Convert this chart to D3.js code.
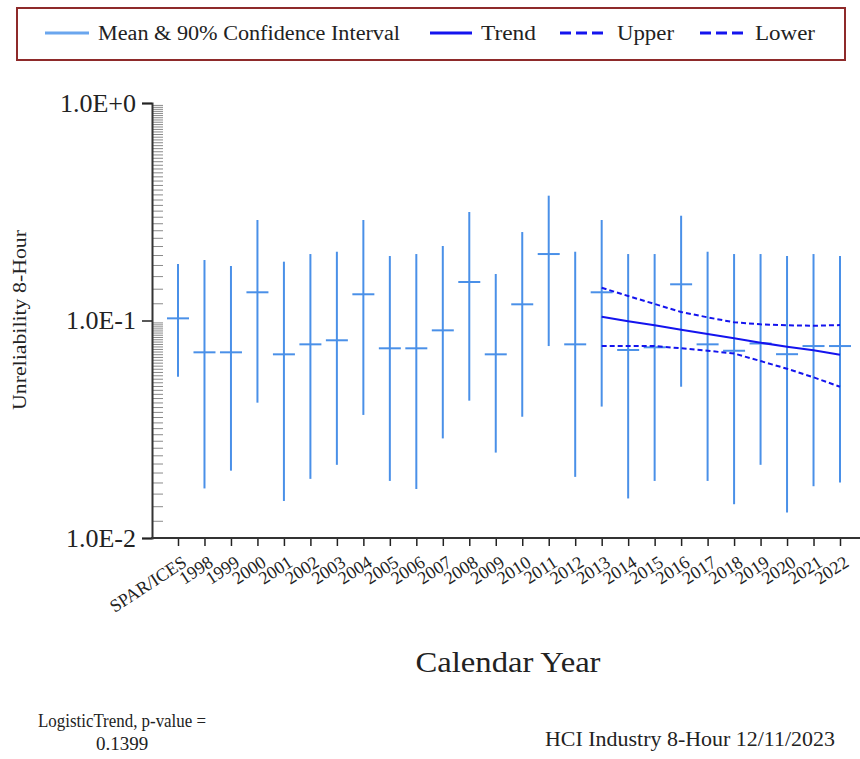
<!DOCTYPE html>
<html>
<head>
<meta charset="utf-8">
<script src="https://cdn.jsdelivr.net/npm/d3@7"></script>
<style>
  body { margin: 0; background: #fff; }
  svg { display: block; }
  svg text { font-family: "Liberation Serif", "Times New Roman", serif; }
</style>
</head>
<body>
<div id="chart"></div>
<script>
const categories = ["SPAR/ICES", "1998", "1999", "2000", "2001", "2002", "2003", "2004", "2005",
  "2006", "2007", "2008", "2009", "2010", "2011", "2012", "2013", "2014", "2015", "2016",
  "2017", "2018", "2019", "2020", "2021", "2022"];

const means = [0.1023, 0.0714, 0.0714, 0.1348, 0.0699, 0.0777, 0.0811, 0.1320, 0.0745,
  0.0745, 0.0901, 0.1503, 0.0699, 0.1187, 0.2021, 0.0777, 0.1348, 0.0732, 0.0753, 0.1467,
  0.0777, 0.0726, 0.0784, 0.0700, 0.0763, 0.0763];
const upper90 = [0.1819, 0.1897, 0.1781, 0.2898, 0.1864, 0.2021, 0.2071, 0.2898, 0.1979,
  0.2021, 0.2201, 0.3154, 0.1636, 0.2551, 0.3749, 0.2071, 0.2898, 0.2021, 0.2021, 0.3032,
  0.2071, 0.2021, 0.2021, 0.1979, 0.2021, 0.1979];
const lower90 = [0.0551, 0.0169, 0.0204, 0.0419, 0.0148, 0.0187, 0.0217, 0.0368, 0.0183,
  0.0168, 0.0287, 0.0428, 0.0247, 0.0361, 0.0763, 0.0191, 0.0402, 0.0152, 0.0183, 0.0496,
  0.0183, 0.0143, 0.0217, 0.0131, 0.0173, 0.0180];

const trendYears = ["2013", "2014", "2015", "2016", "2017", "2018", "2019", "2020", "2021", "2022"];
const trend = [0.1041, 0.0992, 0.0950, 0.0907, 0.0867, 0.0829, 0.0791, 0.0758, 0.0729, 0.0696];
const trendUpper = [0.1415, 0.1296, 0.1191, 0.1094, 0.1034, 0.0981, 0.0960, 0.0950, 0.0946, 0.0953];
const trendLower = [0.0763, 0.0763, 0.0763, 0.0745, 0.0726, 0.0705, 0.0651, 0.0600, 0.0548, 0.0496];

const yMajor = [1, 0.1, 0.01];
const yMajorLabels = ["1.0E+0", "1.0E-1", "1.0E-2"];

const width = 860;
const height = 759;
const serif = "Liberation Serif";

const svg = d3.select("#chart")
  .append("svg")
  .attr("width", width)
  .attr("height", height);

const x = d3.scalePoint()
  .domain(categories)
  .range([178, 840]);

const y = d3.scaleLog()
  .domain([0.01, 1])
  .range([538, 103]);

const ciColor = "#4a90e8";
const trendColor = "#1414ee";

// legend
const legend = svg.append("g");
legend.append("rect")
  .attr("x", 17).attr("y", 8)
  .attr("width", 828).attr("height", 52)
  .attr("fill", "white")
  .attr("stroke", "#8e2a2a")
  .attr("stroke-width", 2);

const legendItems = [
  { label: "Mean & 90% Confidence Interval", x: 45, color: "#6aa6ee", dash: null, w: 44, tx: 98, tl: 302 },
  { label: "Trend", x: 430, color: trendColor, dash: null, w: 42, tx: 481, tl: 55 },
  { label: "Upper", x: 560, color: trendColor, dash: "11,5", w: 44, tx: 617, tl: 57 },
  { label: "Lower", x: 700, color: trendColor, dash: "11,5", w: 44, tx: 755, tl: 60 }
];
legendItems.forEach((d) => {
  legend.append("line")
    .attr("x1", d.x).attr("x2", d.x + d.w)
    .attr("y1", 33).attr("y2", 33)
    .attr("stroke", d.color)
    .attr("stroke-width", 3)
    .attr("stroke-dasharray", d.dash);
  legend.append("text")
    .attr("x", d.tx).attr("y", 40)
    .attr("textLength", d.tl)
    .attr("lengthAdjust", "spacingAndGlyphs")
    .style("font-family", serif)
    .style("font-size", "20px")
    .attr("fill", "#222")
    .text(d.label);
});

// y axis, minor ticks
const minorTicks = [];
[0.01, 0.1].forEach((dec) => {
  for (let k = 12; k < 100; k += 2) minorTicks.push(dec * k / 10);
});

svg.append("g")
  .attr("transform", "translate(153,0)")
  .call(d3.axisRight(y).tickValues(minorTicks).tickSize(10).tickFormat(""))
  .call((g) => g.select(".domain").remove())
  .selectAll("line")
  .attr("stroke", "#8a8a8a");

const yAxis = svg.append("g")
  .attr("transform", "translate(152,0)")
  .call(d3.axisLeft(y).tickValues(yMajor).tickSize(10)
    .tickFormat((d, i) => yMajorLabels[i]));
yAxis.select(".domain")
  .attr("stroke", "#333")
  .attr("stroke-width", 2);
yAxis.selectAll("line").attr("stroke", "#222").attr("stroke-width", 1.5);
yAxis.selectAll("text")
  .attr("x", -16)
  .attr("fill", "#222")
  .style("font-family", serif)
  .style("font-size", "26px");

// x axis
const xAxis = svg.append("g")
  .attr("transform", "translate(0,538)")
  .call(d3.axisBottom(x).tickSize(8).tickSizeOuter(0));
xAxis.select(".domain").remove();
xAxis.append("line")
  .attr("x1", 151).attr("x2", 860)
  .attr("stroke", "#333")
  .attr("stroke-width", 2);
xAxis.selectAll(".tick line").attr("stroke", "#222").attr("stroke-width", 1.5);
xAxis.selectAll(".tick text")
  .attr("fill", "#222")
  .style("font-family", serif)
  .style("font-size", "18px")
  .style("text-anchor", "end")
  .attr("y", 0)
  .attr("dy", "0.35em")
  .attr("transform", "translate(6,22) rotate(-33)");

// confidence intervals
const rows = categories.map((c, i) => ({ c, m: means[i], hi: upper90[i], lo: lower90[i] }));

svg.append("g")
  .selectAll("line")
  .data(rows)
  .join("line")
  .attr("x1", (d) => x(d.c)).attr("x2", (d) => x(d.c))
  .attr("y1", (d) => y(d.hi)).attr("y2", (d) => y(d.lo))
  .attr("stroke", ciColor)
  .attr("stroke-width", 2);

svg.append("g")
  .selectAll("line")
  .data(rows)
  .join("line")
  .attr("x1", (d) => x(d.c) - 11).attr("x2", (d) => x(d.c) + 11)
  .attr("y1", (d) => y(d.m)).attr("y2", (d) => y(d.m))
  .attr("stroke", ciColor)
  .attr("stroke-width", 2);

// trend lines
const line = d3.line()
  .x((d) => x(d[0]))
  .y((d) => y(d[1]));

[[trend, null], [trendUpper, "5,3"], [trendLower, "5,3"]].forEach(([vals, dash]) => {
  svg.append("path")
    .datum(trendYears.map((t, i) => [t, vals[i]]))
    .attr("d", line)
    .attr("fill", "none")
    .attr("stroke", trendColor)
    .attr("stroke-width", 2)
    .attr("stroke-dasharray", dash);
});

// titles
svg.append("text")
  .attr("transform", "translate(26,320) rotate(-90)")
  .attr("text-anchor", "middle")
  .attr("textLength", 180)
  .attr("lengthAdjust", "spacingAndGlyphs")
  .attr("fill", "#222")
  .style("font-family", serif)
  .style("font-size", "19px")
  .text("Unreliability 8-Hour");

svg.append("text")
  .attr("x", 508).attr("y", 672)
  .attr("text-anchor", "middle")
  .attr("textLength", 185)
  .attr("lengthAdjust", "spacingAndGlyphs")
  .attr("fill", "#222")
  .style("font-family", serif)
  .style("font-size", "30px")
  .text("Calendar Year");

svg.append("text")
  .attr("x", 122).attr("y", 727)
  .attr("text-anchor", "middle")
  .attr("textLength", 168)
  .attr("lengthAdjust", "spacingAndGlyphs")
  .attr("fill", "#222")
  .style("font-family", serif)
  .style("font-size", "19px")
  .text("LogisticTrend, p-value =");

svg.append("text")
  .attr("x", 122).attr("y", 750)
  .attr("text-anchor", "middle")
  .attr("fill", "#222")
  .style("font-family", serif)
  .style("font-size", "19px")
  .text("0.1399");

svg.append("text")
  .attr("x", 835).attr("y", 746)
  .attr("text-anchor", "end")
  .attr("textLength", 290)
  .attr("lengthAdjust", "spacingAndGlyphs")
  .attr("fill", "#222")
  .style("font-family", serif)
  .style("font-size", "20px")
  .text("HCI Industry 8-Hour 12/11/2023");
</script>
</body>
</html>
